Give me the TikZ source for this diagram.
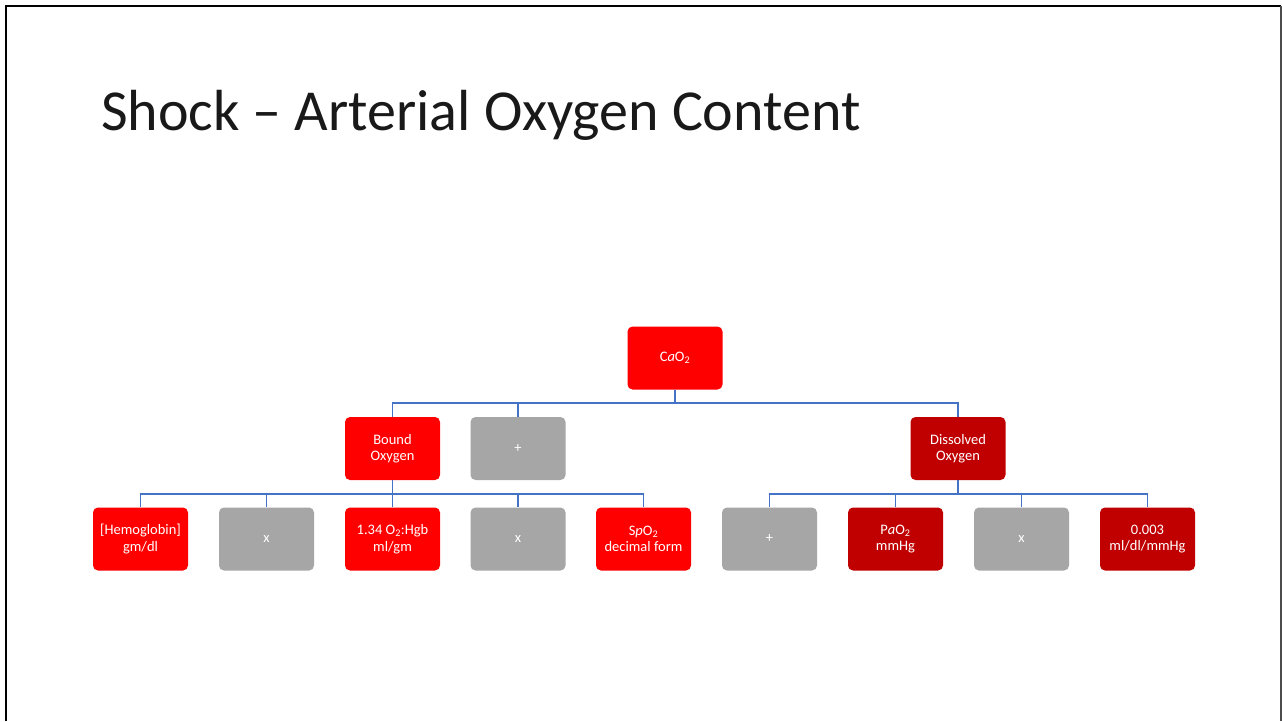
\documentclass[tikz,border=0pt]{standalone}
\usepackage{fontspec}
\setmainfont{Carlito}
\begin{document}
\begin{tikzpicture}[x=1pt,y=-1pt,
  box/.style={rounded corners=5pt, minimum width=95pt, minimum height=63pt,
    inner sep=0pt, align=center, text=white,
    font=\fontsize{14.5}{16.5}\selectfont},
  bright/.style={box, fill=red},
  dark/.style={box, fill=darkred},
  op/.style={box, fill=opgray},
  link/.style={draw=linkblue, line width=1.3pt}
]
\definecolor{darkred}{HTML}{C00000}
\definecolor{opgray}{HTML}{A6A6A6}
\definecolor{linkblue}{HTML}{4472C4}
\useasboundingbox (0,0) rectangle (1282,721);
\fill[white] (0,0) rectangle (1282,721);
% slide frame
\draw[line width=2.2pt, black] (6,721) -- (6,6) -- (1281,6);
\draw[line width=1.2pt, black!70] (1281,6) -- (1281,721);

% title
\node[anchor=base west, inner sep=0pt, font=\fontsize{58}{60}\selectfont, text=black!90] (title) at (101,130)
  {Shock – Arterial Oxygen Content};

% top level
\node[bright] (cao) at (675,358) {C\textit{a}O\textsubscript{2}};
% second level
\node[bright] (bound) at (392.5,448.5) {Bound\\Oxygen};
\node[op] (plusA) at (518,448.5) {+};
\node[dark] (diss) at (958,448.5) {Dissolved\\Oxygen};
% third level
\node[bright] (hgb) at (140.5,539) {[Hemoglobin]\\gm/dl};
\node[op] (timesA) at (266.5,539) {x};
\node[bright] (factor) at (392.5,539) {1.34 O\textsubscript{2}:Hgb\\ml/gm};
\node[op] (timesB) at (518,539) {x};
\node[bright] (spo) at (643.5,539) {S\textit{p}O\textsubscript{2}\\decimal form};
\node[op] (plusB) at (769.5,539) {+};
\node[dark] (pao) at (895.5,539) {P\textit{a}O\textsubscript{2}\\mmHg};
\node[op] (timesC) at (1021.5,539) {x};
\node[dark] (sol) at (1147.5,539) {0.003\\ml/dl/mmHg};

% connectors
\coordinate (busA) at (0,403);
\coordinate (busB) at (0,494);
\foreach \c in {bound,plusA,diss}
  \draw[link] (cao.south) |- (busA -| \c.north) -- (\c.north);
\foreach \c in {hgb,timesA,factor,timesB,spo}
  \draw[link] (bound.south) |- (busB -| \c.north) -- (\c.north);
\foreach \c in {plusB,pao,timesC,sol}
  \draw[link] (diss.south) |- (busB -| \c.north) -- (\c.north);
\end{tikzpicture}
\end{document}
